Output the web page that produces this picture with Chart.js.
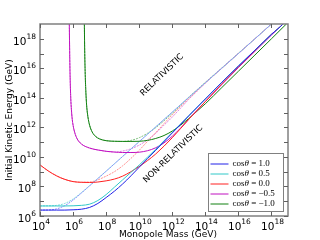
<!DOCTYPE html>
<html>
<head>
<meta charset="utf-8">
<script src="https://cdn.jsdelivr.net/npm/chart.js@4"></script>
<style>
  html, body { margin: 0; padding: 0; background: #fff; }
</style>
</head>
<body>
<canvas id="chart" width="320" height="240"></canvas>
<script>
// every value below is log10 of GeV
const xTickExps = [4, 6, 8, 10, 12, 14, 16, 18];
const yTickExps = [6, 7, 8, 9, 10, 11, 12, 13, 14, 15, 16, 17, 18];
const yLabelExps = [6, 8, 10, 12, 14, 16, 18];

const labels = ['1.0', '0.5', '0.0', '\u22120.5', '\u22121.0'];

// shared mass grid for cos = 1.0, 0.5, 0.0
const massGrid = [4, 4.5, 5, 5.5, 6, 6.5, 7, 7.5, 8, 8.5, 9, 9.5, 10, 10.5, 11, 12, 13, 14, 15, 16, 17, 18, 18.7, 19];

// non-relativistic (solid)
const blueSolid = [6.40, 6.40, 6.40, 6.40, 6.42, 6.46, 6.58, 6.85, 7.25, 7.68, 8.17, 8.72, 9.30, 9.88, 10.45, 11.62, 12.78, 13.92, 15.05, 16.15, 17.22, 18.30, 19.0, 19.4];
const cyanSolid = [6.68, 6.68, 6.68, 6.68, 6.69, 6.72, 6.80, 7.05, 7.45, 7.95, 8.45, 8.95, 9.45, 9.98, 10.52, 11.66, 12.80, 13.93, 15.06, 16.16, 17.23, 18.30, 19.0, 19.4];
const redSolid = [9.46, 9.05, 8.72, 8.48, 8.33, 8.28, 8.27, 8.30, 8.38, 8.50, 8.70, 9.00, 9.35, 9.75, 10.20, 11.30, 12.55, 13.75, 14.95, 16.10, 17.20, 18.30, 19.0, 19.4];

// relativistic (dotted)
const blueRel = [6.40, 6.41, 6.48, 6.70, 7.08, 7.55, 8.04, 8.53, 9.03, 9.53, 10.03, 10.53, 11.03, 11.53, 12.03, 13.03, 14.03, 15.02, 16.01, 17.0, 18.0, 19.0, 19.7, 20];
const cyanRel = [6.68, 6.69, 6.72, 6.85, 7.15, 7.58, 8.06, 8.55, 9.04, 9.54, 10.04, 10.54, 11.04, 11.54, 12.04, 13.04, 14.03, 15.02, 16.01, 17.0, 18.0, 19.0, 19.7, 20];
const redRel = [9.46, 9.05, 8.72, 8.48, 8.33, 8.29, 8.30, 8.45, 8.70, 9.00, 9.40, 9.90, 10.45, 11.05, 11.65, 12.85, 13.95, 15.0, 16.0, 17.0, 18.0, 19.0, 19.7, 20];

// cos = -0.5
const magentaMass = [5.77, 5.79, 5.82, 5.86, 5.9, 5.95, 6.0, 6.1, 6.25, 6.5, 7, 7.5, 8, 8.5, 9, 9.5, 10, 10.5, 11, 11.5, 12, 12.5, 13, 13.5, 14, 15, 16, 17, 18, 18.7];
const magentaSolid = [19.2, 17.5, 15.5, 14.0, 13.2, 12.55, 12.15, 11.65, 11.22, 10.88, 10.60, 10.47, 10.38, 10.33, 10.30, 10.30, 10.32, 10.42, 10.62, 10.95, 11.40, 11.95, 12.55, 13.15, 13.75, 14.90, 16.05, 17.15, 18.25, 19.0];
const magentaRel = [19.2, 17.5, 15.5, 14.0, 13.2, 12.55, 12.15, 11.65, 11.22, 10.88, 10.60, 10.47, 10.38, 10.33, 10.40, 10.55, 10.80, 11.15, 11.60, 12.15, 12.70, 13.30, 13.90, 14.45, 15.0, 16.02, 17.01, 18.0, 19.0, 19.7];

// cos = -1.0
const greenMass = [6.68, 6.7, 6.73, 6.77, 6.82, 6.9, 7.0, 7.15, 7.35, 7.6, 8, 8.5, 9, 9.5, 10, 10.5, 11, 11.5, 12, 12.5, 13, 13.5, 14, 15, 16, 17, 18, 18.9];
const greenSolid = [19.2, 17.5, 15.8, 14.5, 13.5, 12.7, 12.15, 11.7, 11.4, 11.22, 11.10, 11.06, 11.05, 11.05, 11.06, 11.12, 11.25, 11.45, 11.75, 12.15, 12.60, 13.10, 13.60, 14.70, 15.80, 16.90, 18.0, 19.0];
const greenRel = [19.2, 17.5, 15.8, 14.5, 13.5, 12.7, 12.15, 11.7, 11.4, 11.22, 11.10, 11.06, 11.05, 11.12, 11.30, 11.60, 11.98, 12.45, 12.95, 13.50, 14.05, 14.55, 15.05, 16.03, 17.02, 18.0, 19.0, 19.9];

const solidColors = ['#2020e8', '#30c8c8', '#ff2020', '#c010c0', '#108010'];
const relColors = ['#8c8cff', '#80dcdc', '#ff9090', '#e080e0', '#80c080'];

function pts(mass, energy) {
  return mass.map((m, i) => ({ x: Math.pow(10, m), y: Math.pow(10, energy[i]) }));
}

const series = [
  [massGrid, blueSolid, blueRel],
  [massGrid, cyanSolid, cyanRel],
  [massGrid, redSolid, redRel],
  [magentaMass, magentaSolid, magentaRel],
  [greenMass, greenSolid, greenRel]
];

const datasets = [];
series.forEach((s, i) => {
  datasets.push({
    label: labels[i], data: pts(s[0], s[1]), borderColor: solidColors[i],
    borderWidth: 1, pointRadius: 0, cubicInterpolationMode: 'monotone', fill: false
  });
});
series.forEach((s, i) => {
  datasets.push({
    label: '', data: pts(s[0], s[2]), borderColor: relColors[i],
    borderWidth: 1, borderDash: [2, 1], pointRadius: 0, cubicInterpolationMode: 'monotone', fill: false
  });
});

// "10" with a raised exponent, like matplotlib mathtext
function drawPower(ctx, exp, x, baseline, align) {
  ctx.font = '10.5px "DejaVu Sans"';
  const wb = ctx.measureText('10').width;
  ctx.font = '7.5px "DejaVu Sans"';
  const we = ctx.measureText(String(exp)).width;
  const start = align === 'right' ? x - wb - we : x - (wb + we) / 2;
  ctx.textAlign = 'left';
  ctx.textBaseline = 'alphabetic';
  ctx.font = '10.5px "DejaVu Sans"';
  ctx.fillText('10', start, baseline);
  ctx.font = '7.5px "DejaVu Sans"';
  ctx.fillText(String(exp), start + wb, baseline - 6);
}

// frame, inward ticks, labels, legend
const decor = {
  id: 'decor',
  afterDraw(chart) {
    const ctx = chart.ctx;
    const ca = chart.chartArea;
    const xs = chart.scales.x, ys = chart.scales.y;
    ctx.save();

    // frame
    ctx.strokeStyle = '#808080';
    ctx.lineWidth = 1.5;
    ctx.strokeRect(ca.left, ca.top, ca.right - ca.left, ca.bottom - ca.top);

    // inward ticks
    ctx.strokeStyle = '#606060';
    ctx.lineWidth = 1;
    ctx.beginPath();
    xTickExps.forEach(e => {
      const px = Math.round(xs.getPixelForValue(Math.pow(10, e))) + 0.5;
      ctx.moveTo(px, ca.bottom); ctx.lineTo(px, ca.bottom - 4);
      ctx.moveTo(px, ca.top); ctx.lineTo(px, ca.top + 4);
    });
    yTickExps.forEach(e => {
      const py = Math.round(ys.getPixelForValue(Math.pow(10, e))) + 0.5;
      ctx.moveTo(ca.left, py); ctx.lineTo(ca.left + 4, py);
      ctx.moveTo(ca.right, py); ctx.lineTo(ca.right - 4, py);
    });
    ctx.stroke();

    // tick labels
    ctx.fillStyle = '#000';
    xTickExps.forEach(e => drawPower(ctx, e, xs.getPixelForValue(Math.pow(10, e)) + 1, ca.bottom + 13.5, 'center'));
    yLabelExps.forEach(e => drawPower(ctx, e, ca.left - 4, ys.getPixelForValue(Math.pow(10, e)) + 6, 'right'));

    // axis titles
    ctx.font = '9px "DejaVu Sans"';
    ctx.textAlign = 'center';
    ctx.textBaseline = 'middle';
    ctx.fillText('Monopole Mass (GeV)', (ca.left + ca.right) / 2 + 4, 235);
    ctx.save();
    ctx.translate(10, (ca.top + ca.bottom) / 2);
    ctx.rotate(-Math.PI / 2);
    ctx.fillText('Initial Kinetic Energy (GeV)', 0, 0);
    ctx.restore();

    // regime labels along the asymptotes
    ctx.font = '8.5px "DejaVu Sans"';
    [['RELATIVISTIC', 11.38, 15.55], ['NON-RELATIVISTIC', 12.05, 10.2]].forEach(a => {
      ctx.save();
      ctx.translate(xs.getPixelForValue(Math.pow(10, a[1])), ys.getPixelForValue(Math.pow(10, a[2])));
      ctx.rotate(-44 * Math.PI / 180);
      ctx.fillText(a[0], 0, 0);
      ctx.restore();
    });

    // legend
    const bx = ca.right - 79.5, by = ca.bottom - 62.5, bw = 75, bh = 58;
    ctx.fillStyle = '#fff';
    ctx.fillRect(bx, by, bw, bh);
    ctx.strokeStyle = '#808080';
    ctx.lineWidth = 1;
    ctx.strokeRect(bx, by, bw, bh);
    labels.forEach((lab, i) => {
      const y = by + 10 + i * 10;
      ctx.strokeStyle = solidColors[i];
      ctx.beginPath();
      ctx.moveTo(bx + 2, y + 0.5); ctx.lineTo(bx + 20, y + 0.5);
      ctx.stroke();
      ctx.fillStyle = '#000';
      ctx.textAlign = 'left';
      ctx.textBaseline = 'middle';
      ctx.font = '9px "Liberation Serif"';
      let tx = bx + 24;
      ctx.fillText('cos', tx, y);
      tx += ctx.measureText('cos').width;
      ctx.font = 'italic 9px "Liberation Serif"';
      ctx.fillText('\u03b8', tx, y);
      tx += ctx.measureText('\u03b8').width;
      ctx.font = '9px "Liberation Serif"';
      ctx.fillText(' = ' + lab, tx, y);
    });
    ctx.restore();
  }
};

new Chart(document.getElementById('chart').getContext('2d'), {
  type: 'line',
  data: { datasets: datasets },
  options: {
    responsive: false,
    animation: false,
    layout: { padding: { top: 24, right: 32, left: 0, bottom: 0 } },
    plugins: { legend: { display: false }, tooltip: { enabled: false } },
    scales: {
      x: {
        type: 'logarithmic', min: 1e4, max: 1e19,
        grid: { display: false, drawTicks: false },
        border: { display: false },
        afterBuildTicks: s => { s.ticks = xTickExps.map(e => ({ value: Math.pow(10, e) })); },
        afterFit: s => { s.height = 24; },
        ticks: { display: false }
      },
      y: {
        type: 'logarithmic', min: 1e6, max: 1e19,
        grid: { display: false, drawTicks: false },
        border: { display: false },
        afterBuildTicks: s => { s.ticks = yTickExps.map(e => ({ value: Math.pow(10, e) })); },
        afterFit: s => { s.width = 40; },
        ticks: { display: false }
      }
    }
  },
  plugins: [decor]
});
</script>
</body>
</html>
